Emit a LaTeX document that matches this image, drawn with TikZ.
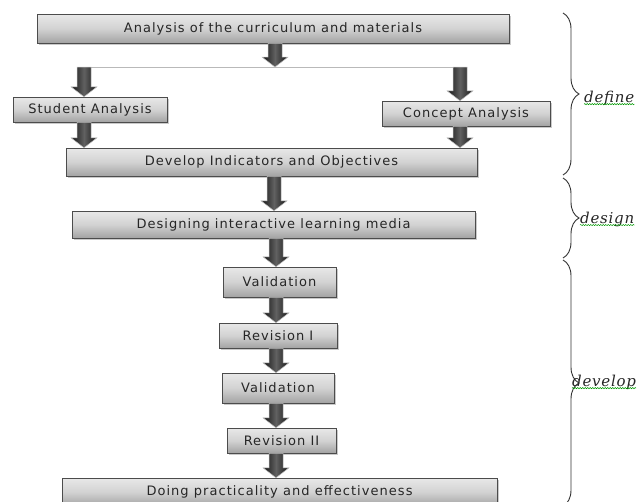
\documentclass[tikz,border=0pt]{standalone}
\usepackage{fontspec}
\newfontfamily\boxfont{DejaVu Sans}[LetterSpace=8]
\newfontfamily\labfont{DejaVu Serif}[LetterSpace=5]
\usetikzlibrary{arrows.meta,shadows,decorations.pathreplacing,decorations.pathmorphing,calc}
\newcommand\blockarrow[2]{%
  \path[arrfill] let \p1=(#1), \p2=(#2) in
    (\x1-7,\y1) -- (\x1+7,\y1) -- (\x1+7,\y2+10) -- (\x1+13,\y2+10) --
    (\x1,\y2) -- (\x1-13,\y2+10) -- (\x1-7,\y2+10) -- cycle;}
\begin{document}
\begin{tikzpicture}[x=1pt,y=1pt,
  box/.style={draw=gray!60!black, line width=0.5pt, top color=gray!18,
    bottom color=gray!72, middle color=gray!35,
    drop shadow={shadow xshift=2pt,shadow yshift=-2pt,opacity=0.35,fill=black!60},
    font=\boxfont\fontsize{13}{15}\selectfont, text=black!85, inner sep=0pt},
  arrfill/.style={draw=gray!50, line width=0.5pt, left color=black!92,
    right color=black!92, middle color=black!62},
  curly/.style={decorate, decoration={brace, amplitude=16pt},
    draw=gray!40!black, line width=0.9pt},
  lab/.style={font=\labfont\itshape\fontsize{15}{17}\selectfont,
    text=black!85, inner sep=0pt, anchor=west},
  squig/.style={draw=green!60!black, line width=0.5pt, decorate,
    decoration={snake, amplitude=0.6pt, segment length=2.5pt}}]
\useasboundingbox (0,0) rectangle (642,-501);
\clip (0,0) rectangle (642,-501);

% boxes
\node[box, minimum width=472pt, minimum height=29pt] (A) at (273,-28.5) {Analysis of the curriculum and materials};
\node[box, minimum width=154pt, minimum height=25pt] (S) at (90,-109.5) {Student Analysis};
\node[box, minimum width=168pt, minimum height=25pt] (C) at (466,-113.5) {Concept Analysis};
\node[box, minimum width=411pt, minimum height=28pt] (D) at (271.5,-162) {Develop Indicators and Objectives};
\node[box, minimum width=403pt, minimum height=27pt] (G) at (273.5,-224.5) {Designing interactive learning media};
\node[box, minimum width=113pt, minimum height=30pt] (V1) at (279.5,-282) {Validation};
\node[box, minimum width=118pt, minimum height=25pt] (R1) at (278,-335.5) {Revision I};
\node[box, minimum width=112pt, minimum height=30pt] (V2) at (278,-388) {Validation};
\node[box, minimum width=109pt, minimum height=25pt] (R2) at (281.5,-440.5) {Revision II};
\node[box, minimum width=435pt, minimum height=28pt] (P) at (279.5,-492) {Doing practicality and effectiveness};

% helper coordinates
\coordinate (L) at (84,-67);
\coordinate (M) at (275,-67);
\coordinate (R) at (460,-67);
\coordinate (ax) at (276,0);
\coordinate (bx) at (274,0);

% connectors
\draw[gray!55, line width=0.8pt] (L) -- (R);
\blockarrow{A.south -| M}{M}
\blockarrow{L}{S.north -| L}
\blockarrow{R}{C.north -| R}
\blockarrow{S.south -| L}{D.north -| L}
\blockarrow{C.south -| R}{D.north -| R}
\blockarrow{D.south -| bx}{G.north -| bx}
\blockarrow{G.south -| ax}{V1.north -| ax}
\blockarrow{V1.south -| ax}{R1.north -| ax}
\blockarrow{R1.south -| ax}{V2.north -| ax}
\blockarrow{V2.south -| ax}{R2.north -| ax}
\blockarrow{R2.south -| ax}{P.north -| ax}

% braces
\coordinate (b1t) at (563,-13);
\coordinate (b1b) at (563,-175);
\coordinate (b2t) at (563,-178);
\coordinate (b2b) at (563,-258);
\coordinate (b3t) at (563,-260);
\coordinate (b3b) at (563,-506);
\draw[curly] (b1t) -- (b1b);
\draw[curly] (b2t) -- (b2b);
\draw[curly] (b3t) -- (b3b);

% labels
\node[lab] (l1) at (584,-98) {define};
\node[lab] (l2) at (580,-219) {design};
\node[lab] (l3) at (572,-382) {develop};
\draw[squig] ([yshift=-2pt]l1.base west) -- ([yshift=-2pt]l1.base east);
\draw[squig] ([yshift=-2pt]l2.base west) -- ([yshift=-2pt]l2.base east);
\draw[squig] ([yshift=-2pt]l3.base west) -- ([yshift=-2pt]l3.base east);
\end{tikzpicture}
\end{document}
